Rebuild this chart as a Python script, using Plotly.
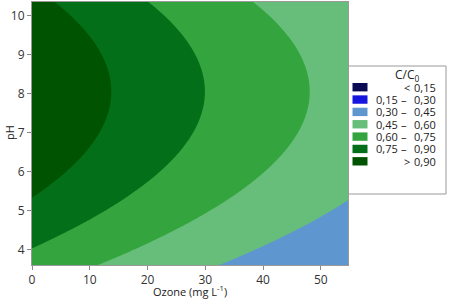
import numpy as np
import plotly.graph_objects as go

# ---- data ----
ozone_range = [0, 54.7]          # mg/L
ph_range = [3.6, 10.35]
x_ticks = [0, 10, 20, 30, 40, 50]
y_ticks = [4, 5, 6, 7, 8, 9, 10]

# contour boundaries: level -> ozone at the apex of the curve (pH ~ 8)
apex_levels = [0.90, 0.75, 0.60, 0.45]
apex_ozone = [13.8, 29.7, 48.3, 69.0]
apex_ph = 8.05
bend = 1.85   # how far each boundary bends back (mg/L per pH^2)

contour_levels = [0.15, 0.30, 0.45, 0.60, 0.75, 0.90]
band_colors = ["#0a0a55", "#1515e0", "#5e97d0", "#66be7a", "#33a43e", "#036f18", "#005300"]
legend_left = ["", "0,15", "0,30", "0,45", "0,60", "0,75", ""]
legend_right = ["0,15", "0,30", "0,45", "0,60", "0,75", "0,90", "0,90"]
legend_sym = ["<", "–", "–", "–", "–", "–", ">"]

# ---- response surface table for the contour trace ----
xg = np.linspace(ozone_range[0], ozone_range[1], 300)
yg = np.linspace(ph_range[0], ph_range[1], 300)
X, Y = np.meshgrid(xg, yg)
coef = np.polyfit(apex_ozone, apex_levels, 2)
S = X + bend * (Y - apex_ph) ** 2
Z = np.polyval(coef, S)

n = len(band_colors)
cscale = []
for k, c in enumerate(band_colors):
    cscale.append([k / n, c])
    cscale.append([(k + 1) / n, c])

fig = go.Figure()
fig.add_trace(go.Contour(
    x=xg, y=yg, z=Z,
    autocontour=False,
    contours=dict(start=contour_levels[0], end=contour_levels[-1],
                  size=0.15, coloring="fill", showlines=False),
    colorscale=cscale, showscale=False, line=dict(width=0),
    hoverinfo="skip",
))

W, H = 452, 301
L, R, T, B = 32, 104, 2, 36
pw, ph_ = W - L - R, H - T - B


def px(x):
    return (x - L) / pw


def py(y):
    return 1 - (y - T) / ph_


fam = "Open Sans, Lato, sans-serif"
font = dict(family=fam, size=11, color="#222")
ann = []
shapes = []
# axis titles
ann.append(dict(x=px(190), y=py(291), xref="paper", yref="paper", showarrow=False,
                text="Ozone (mg L<sup>-1</sup>)", font=dict(family=fam, size=11, color="#222"),
                xanchor="center", yanchor="middle"))
ann.append(dict(x=px(10), y=py(133), xref="paper", yref="paper", showarrow=False,
                text="pH", textangle=-90, font=dict(family=fam, size=11, color="#222"),
                xanchor="center", yanchor="middle"))
# legend box
shapes.append(dict(type="rect", xref="paper", yref="paper",
                   x0=px(348.5), x1=px(446), y0=py(194), y1=py(66),
                   line=dict(color="#999", width=1), fillcolor="white", layer="above"))
ann.append(dict(x=px(408), y=py(75), xref="paper", yref="paper", showarrow=False,
                text="C/C<sub>0</sub>", font=dict(family=fam, size=12, color="#222"),
                xanchor="center", yanchor="middle"))
row0, step = 87.2, 12.35
fs = dict(family=fam, size=11, color="#222")
for i in range(n):
    yc = row0 + i * step
    shapes.append(dict(type="rect", xref="paper", yref="paper",
                       x0=px(352.5), x1=px(367.5), y0=py(yc + 4.2), y1=py(yc - 4.2),
                       line=dict(width=0), fillcolor=band_colors[i], layer="above"))
    if legend_left[i]:
        ann.append(dict(x=px(374), y=py(yc), xref="paper", yref="paper", showarrow=False,
                        text=legend_left[i], font=fs, xanchor="left", yanchor="middle"))
        ann.append(dict(x=px(404), y=py(yc), xref="paper", yref="paper", showarrow=False,
                        text=legend_sym[i], font=fs, xanchor="center", yanchor="middle"))
    else:
        ann.append(dict(x=px(406.5), y=py(yc), xref="paper", yref="paper", showarrow=False,
                        text=legend_sym[i], font=fs, xanchor="center", yanchor="middle"))
    ann.append(dict(x=px(437.5), y=py(yc), xref="paper", yref="paper", showarrow=False,
                    text=legend_right[i], font=fs, xanchor="right", yanchor="middle"))

tickfont = dict(family=fam, size=12, color="#333")
fig.update_layout(
    width=W, height=H,
    margin=dict(l=L, r=R, t=T, b=B, autoexpand=False),
    paper_bgcolor="white", plot_bgcolor="white",
    font=font,
    xaxis=dict(range=ozone_range, tickvals=x_ticks, ticks="outside", ticklen=4,
               tickcolor="#888", showline=True, linecolor="#999", mirror=True,
               showgrid=False, zeroline=False, automargin=False, tickfont=tickfont),
    yaxis=dict(range=ph_range, tickvals=y_ticks, ticks="outside", ticklen=4,
               tickcolor="#888", showline=True, linecolor="#999", mirror=True,
               showgrid=False, zeroline=False, automargin=False, tickfont=tickfont),
    annotations=ann, shapes=shapes,
)

fig.write_html("out.html", config={"displayModeBar": False},
               post_script="document.body.style.margin='0px';")
